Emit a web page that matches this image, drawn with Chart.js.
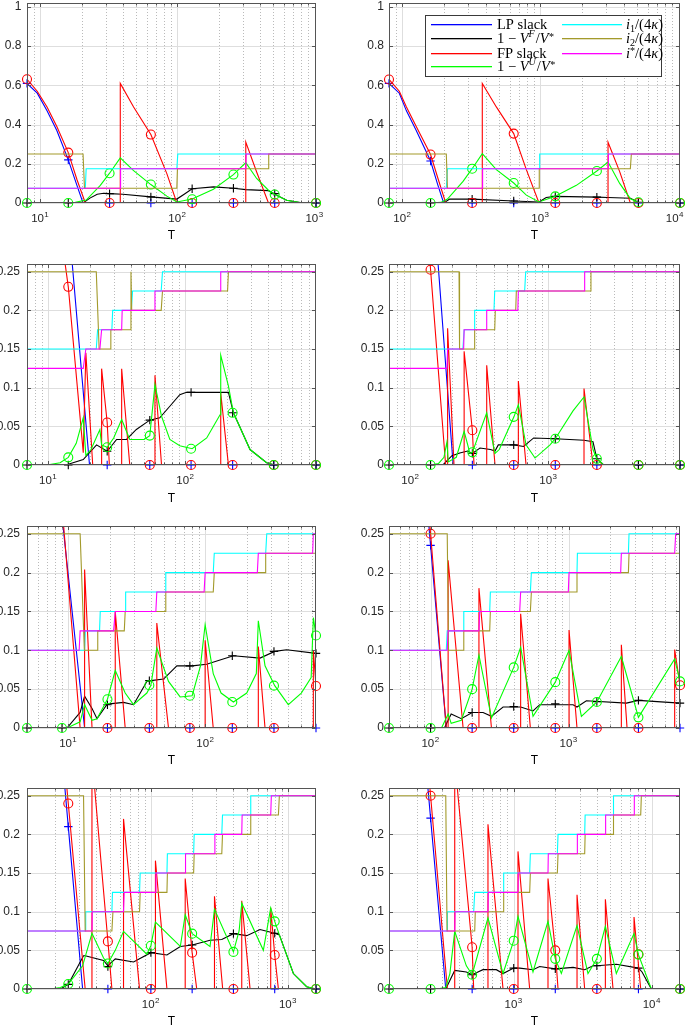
<!DOCTYPE html>
<html>
<head>
<meta charset="utf-8">
<script src="https://cdn.jsdelivr.net/npm/chart.js@4.4.1/dist/chart.umd.min.js"></script>
<style>
html,body{margin:0;padding:0;background:#ffffff;}
body{position:relative;width:685px;height:1031px;overflow:hidden;}
canvas{position:absolute;display:block;}
</style>
</head>
<body>
<canvas id="p1"></canvas><canvas id="p2"></canvas>
<canvas id="p3"></canvas><canvas id="p4"></canvas>
<canvas id="p5"></canvas><canvas id="p6"></canvas>
<canvas id="p7"></canvas><canvas id="p8"></canvas>
<script>
// ---------------- DATA ----------------
const yTicksTop = [0, 0.2, 0.4, 0.6, 0.8, 1];
const yTicksLow = [0, 0.05, 0.1, 0.15, 0.2, 0.25];
const legendLabels = ['LP slack', '1 − V^F/V*', 'FP slack', '1 − V^U/V*', 'i1/(4κ)', 'i2/(4κ)', 'i*/(4κ)'];

// Panel 1 (row 1, left)
const p1_T = [8, 16, 32, 64, 128, 256, 512, 1024];
const p1_lp = [[8,0.61],[9.5,0.56],[11.2,0.47],[13.2,0.37],[16,0.22],[18.5,0.09],[20.5,0],[1024,0]];
const p1_fp = [[8,0.631],[9.5,0.57],[11.2,0.49],[13.2,0.39],[16,0.257],[18.5,0.12],[21.3,0],[38.3,0],[38.3,0.61],[47.9,0.49],[64,0.349],[83.7,0.15],[99,0],[315,0],[315,0.311],[378,0.158],[461,0],[1024,0]];
const p1_vf = [[8,0],[20.5,0],[23,0.025],[26,0.045],[29,0.05],[32,0.048],[40,0.045],[64,0.031],[99,0.02],[112,0.045],[128,0.073],[183,0.082],[256,0.075],[315,0.068],[461,0.063],[512,0.045],[626,0.014],[783,0.002],[1024,0]];
const p1_vu = [[8,0],[16,0],[18,0.003],[21.6,0.015],[27.4,0.09],[32,0.152],[38.3,0.23],[47.9,0.165],[64,0.094],[83.7,0.035],[99,0.005],[128,0.02],[183,0.07],[256,0.145],[315,0.206],[378,0.125],[461,0.065],[512,0.043],[626,0.014],[783,0.002],[1024,0]];
const p1_i1 = [[8,0.075],[21.3,0.075],[21.6,0.175],[99,0.175],[100.6,0.25],[1024,0.25]];
const p1_i2 = [[8,0.25],[20.5,0.25],[21,0.075],[99,0.075],[100,0.175],[461,0.175],[463,0.25],[1024,0.25]];
const p1_is = [[8,0.075],[38.3,0.075],[38.5,0.175],[315,0.175],[317,0.25],[1024,0.25]];
const p1_mLP = [0.61,0.22,0,0,0,0,0,0];
const p1_mVF = [0,0,0.048,0.031,0.073,0.075,0.048,0];
const p1_mFP = [0.631,0.257,0,0.349,0,0,0,0];
const p1_mVU = [0,0,0.152,0.094,0.019,0.145,0.043,0];

// Panel 2 (row 1, right)
const p2_T = [80, 160, 320, 640, 1280, 2560, 5120, 10240];
const p2_lp = [[80,0.61],[95,0.56],[107,0.47],[126,0.37],[160,0.214],[180,0.095],[199,0],[10240,0]];
const p2_fp = [[80,0.63],[95,0.57],[107,0.49],[126,0.39],[160,0.247],[182,0.12],[206,0],[379,0],[379,0.61],[479,0.49],[640,0.354],[790,0.17],[976,0],[3084,0],[3084,0.31],[3745,0.16],[4475,0],[10240,0]];
const p2_vf = [[80,0],[199,0],[220,0.02],[320,0.02],[640,0.01],[976,0.005],[1100,0.028],[1280,0.034],[2560,0.03],[3084,0.028],[4475,0.024],[5120,0.004],[6900,0],[10240,0]];
const p2_vu = [[80,0],[160,0],[190,0.003],[212,0.02],[275,0.11],[320,0.175],[379,0.252],[479,0.17],[640,0.102],[790,0.04],[976,0.005],[1280,0.034],[1819,0.09],[2560,0.163],[3084,0.209],[3745,0.1],[4475,0.022],[5120,0.004],[6900,0],[10240,0]];
const p2_i1 = [[80,0.075],[208,0.075],[212,0.175],[976,0.175],[987,0.25],[10240,0.25]];
const p2_i2 = [[80,0.25],[208,0.25],[212,0.075],[976,0.075],[980,0.175],[4475,0.175],[4550,0.25],[10240,0.25]];
const p2_is = [[80,0.075],[379,0.075],[381,0.175],[3084,0.175],[3100,0.25],[10240,0.25]];
const p2_mLP = [0.61,0.214,0,0,0,0,0,0];
const p2_mVF = [0,0,0.02,0.01,0.034,0.03,0.004,0];
const p2_mFP = [0.63,0.247,0,0.354,0,0,0,0];
const p2_mVU = [0,0,0.175,0.102,0.034,0.163,0.004,0];

// Panel 3 (row 2, left)
const p3_T = [7, 14, 26.9, 55, 110, 221, 441, 896];
const p3_lp = [[7,0.62],[14,0.32],[20,0],[896,0]];
const p3_fp = [[7,0.62],[14,0.2305],[18,0.016],[18.8,0.145],[21.1,0],[24.5,0],[24.5,0.1246],[26.9,0.055],[27.9,0],[34.3,0],[34.3,0.1246],[39.3,0],[60,0],[60,0.116],[67,0],[181,0],[181,0.093],[206,0],[896,0]];
const p3_vf = [[7,0],[12.2,0],[14,0.001],[18,0.007],[22.5,0.026],[26.9,0.0177],[31.5,0.033],[37.2,0.033],[43.9,0.046],[55,0.058],[65,0.061],[77,0.076],[91,0.091],[102,0.094],[206,0.094],[224,0.0675],[296,0.02],[391,0.003],[448,0],[896,0]];
const p3_vu = [[7,0],[9.8,0],[12.2,0.003],[14,0.0099],[16,0.028],[18,0.061],[18.8,0.0125],[20.5,0.02],[23.8,0.0458],[24.5,0.026],[26.9,0.023],[30,0.035],[34.3,0.0588],[39.3,0.033],[50,0.033],[55,0.038],[60,0.104],[67,0.063],[77,0.033],[91,0.025],[112,0.021],[143,0.035],[179,0.065],[181,0.142],[206,0.102],[224,0.0675],[296,0.02],[391,0.003],[448,0],[896,0]];
const p3_i1 = [[7,0.15],[22.4,0.15],[22.9,0.175],[29.1,0.175],[29.5,0.2],[40.3,0.2],[41.2,0.225],[66.6,0.225],[68.1,0.25],[896,0.25]];
const p3_i2 = [[7,0.25],[22.4,0.25],[23.5,0.15],[28.3,0.15],[28.6,0.175],[40,0.175],[40.1,0.25],[40.6,0.2],[66.6,0.2],[68.1,0.225],[203,0.225],[206,0.25],[896,0.25]];
const p3_is = [[7,0.125],[18,0.125],[18.8,0.15],[23.8,0.15],[24.5,0.175],[34.3,0.175],[34.6,0.2],[59.5,0.2],[60,0.225],[179,0.225],[181,0.25],[896,0.25]];
const p3_mLP = [null,null,0,0,0,0,0,0];
const p3_mVF = [0,0,0.0177,0.058,0.094,0.0675,0,0];
const p3_mFP = [null,0.2305,0.055,0,0,0,0,0];
const p3_mVU = [0,0.0099,0.023,0.038,0.021,0.0675,0,0];

// Panel 4 (row 2, right)
const p4_T = [70, 140, 281, 560, 1120, 2240, 4480, 8960];
const p4_lp = [[70,0.9],[140,0.39],[204,0],[8960,0]];
const p4_fp = [[70,0.95],[140,0.2526],[180,0],[186,0],[186,0.177],[207,0],[245,0],[245,0.147],[281,0.0449],[289,0],[357,0],[357,0.129],[410,0],[605,0],[605,0.1085],[688,0],[1808,0],[1808,0.099],[2100,0],[8960,0]];
const p4_vf = [[70,0],[172,0],[200,0.012],[228,0.0156],[260,0.018],[281,0.015],[319,0.022],[380,0.02],[410,0.018],[433,0.026],[562,0.026],[660,0.024],[781,0.035],[1120,0.034],[1808,0.032],[2100,0.03],[2240,0.008],[2480,0.001],[4480,0],[8960,0]];
const p4_vu = [[70,0],[140,0],[160,0.002],[175,0.01],[184,0.03],[188,0.004],[215,0.01],[245,0.0436],[270,0.015],[281,0.0164],[357,0.0675],[410,0.015],[440,0.02],[562,0.0623],[605,0.078],[688,0.026],[799,0.009],[1026,0.026],[1120,0.034],[1505,0.07],[1808,0.088],[2100,0.02],[2240,0.008],[2480,0.001],[4480,0],[8960,0]];
const p4_i1 = [[70,0.15],[240,0.15],[245,0.175],[289,0.175],[292,0.2],[403,0.2],[408,0.225],[672,0.225],[684,0.25],[8960,0.25]];
const p4_i2 = [[70,0.25],[225,0.25],[227,0.15],[289,0.15],[292,0.175],[408,0.175],[412,0.2],[579,0.2],[585,0.225],[2010,0.225],[2030,0.25],[8960,0.25]];
const p4_is = [[70,0.125],[184,0.125],[186,0.15],[243,0.15],[245,0.175],[355,0.175],[357,0.2],[600,0.2],[605,0.225],[1808,0.225],[1828,0.25],[8960,0.25]];
const p4_mLP = [null,null,0,0,0,0,0,0];
const p4_mVF = [0,0,0.015,0.026,0.034,0.008,0,0];
const p4_mFP = [null,0.2526,0.0449,0,0,0,0,0];
const p4_mVU = [0,0,0.0164,0.0623,0.034,0.008,0,0];

// Panel 5 (row 3, left)
const p5_T = [5, 9, 19.3, 39, 77, 157, 316, 640];
const p5_lp = [[5,0.69],[9.15,0.26],[13.15,0],[640,0]];
const p5_fp = [[5,0.75],[9.25,0.26],[12.2,0],[13.15,0],[13.15,0.204],[14.9,0],[22,0],[22,0.15],[26,0],[44.2,0],[44.2,0.135],[53.8,0],[99.5,0],[99.5,0.113],[114,0],[243,0],[243,0.105],[272,0],[612,0],[612,0.1],[640,0.054]];
const p5_vf = [[5,0],[9.78,0],[12.2,0.02],[13.15,0.041],[14.9,0.025],[16.2,0.012],[19.1,0.03],[20,0.031],[25.3,0.033],[29.9,0.03],[37.4,0.06],[40,0.061],[49.5,0.063],[61.9,0.08],[80,0.08],[102,0.082],[160,0.093],[250,0.09],[320,0.0986],[391,0.1007],[640,0.096]];
const p5_vu = [[5,0],[9.78,0],[12.2,0.008],[13.15,0.03],[14.9,0.01],[16.2,0.012],[19.3,0.037],[22,0.074],[26,0.045],[29.9,0.03],[37.4,0.045],[40,0.055],[44.2,0.103],[53.8,0.06],[65.4,0.04],[80,0.0416],[92,0.08],[99.5,0.133],[114,0.07],[130,0.045],[160,0.0335],[200,0.045],[235,0.07],[243,0.138],[272,0.08],[320,0.0545],[402,0.03],[500,0.045],[590,0.065],[612,0.142],[640,0.119]];
const p5_i1 = [[5,0.1],[13.15,0.1],[13.3,0.125],[16.9,0.125],[17.1,0.15],[26,0.15],[26.2,0.175],[50.9,0.175],[51.4,0.2],[114,0.2],[116,0.225],[275,0.225],[280,0.25],[640,0.25]];
const p5_i2 = [[5,0.25],[12.2,0.25],[13.1,0.1],[16.2,0.1],[16.4,0.125],[25.6,0.125],[26,0.15],[50.9,0.15],[51.4,0.175],[114,0.175],[116,0.2],[272,0.2],[275,0.225],[640,0.225]];
const p5_is = [[5,0.1],[12,0.1],[12.2,0.125],[21.4,0.125],[22,0.15],[43.5,0.15],[44.2,0.175],[97.8,0.175],[99.5,0.2],[239,0.2],[243,0.225],[605,0.225],[612,0.25],[640,0.25]];
const p5_mLP = [null,null,0,0,0,0,0,0];
const p5_mVF = [0,0,0.03,0.061,0.08,0.093,0.0986,0.096];
const p5_mFP = [null,null,0,0,0,0,0,0.054];
const p5_mVU = [0,0,0.037,0.055,0.0416,0.0335,0.0545,0.119];

// Panel 6 (row 3, right)
const p6_T = [50, 100, 200, 400, 800, 1600, 3200, 6400];
const p6_lp = [[50,0.85],[100,0.235],[130,0],[6400,0]];
const p6_fp = [[50,0.91],[100,0.25],[130,0],[134,0],[134,0.216],[172,0],[224,0],[224,0.18],[276,0],[449,0],[449,0.147],[528,0],[1006,0],[1006,0.126],[1149,0],[2407,0],[2407,0.107],[2647,0],[5856,0],[5856,0.101],[6400,0.055]];
const p6_vf = [[50,0],[126,0],[141,0.018],[167,0.012],[200,0.02],[240,0.02],[276,0.015],[335,0.027],[449,0.027],[552,0.022],[617,0.03],[1076,0.03],[1149,0.027],[1343,0.035],[2617,0.032],[3200,0.0356],[6400,0.032]];
const p6_vu = [[50,0],[120,0],[134,0.018],[141,0.006],[167,0.01],[200,0.05],[224,0.094],[276,0.013],[400,0.078],[449,0.104],[552,0.015],[800,0.059],[1006,0.1],[1236,0.015],[1600,0.0335],[2407,0.092],[3200,0.0137],[5856,0.089],[6400,0.06]];
const p6_i1 = [[50,0.1],[130,0.1],[132,0.125],[172,0.125],[174,0.15],[268,0.15],[271,0.175],[528,0.175],[537,0.2],[1149,0.2],[1157,0.225],[2707,0.225],[2736,0.25],[6400,0.25]];
const p6_i2 = [[50,0.25],[132,0.25],[135,0.1],[172,0.1],[174,0.125],[268,0.125],[271,0.15],[528,0.15],[537,0.175],[1137,0.175],[1149,0.2],[2707,0.2],[2736,0.225],[6400,0.225]];
const p6_is = [[50,0.1],[132,0.1],[134,0.125],[224,0.125],[227,0.15],[442,0.15],[449,0.175],[994,0.175],[1006,0.2],[2380,0.2],[2407,0.225],[5856,0.225],[5955,0.25],[6400,0.25]];
const p6_mLP = [null,0.235,0,0,0,0,0,0];
const p6_mVF = [0,0,0.02,0.0275,0.031,0.034,0.0356,0.032];
const p6_mFP = [null,0.25,0,0,0,0,0,0.055];
const p6_mVU = [0,0,0.05,0.078,0.059,0.0335,0.0137,0.06];

// Panel 7 (row 4, left)
const p7_T = [12.5, 25, 48.6, 100, 200, 400, 800, 1600];
const p7_lp = [[12.5,0.815],[25,0.21],[31.8,0],[1600,0]];
const p7_fp = [[12.5,0.82],[25,0.24],[33.2,0],[37.2,0],[37.2,0.3],[48.6,0.062],[52,0],[63.2,0],[63.2,0.22],[82.7,0],[108,0],[108,0.166],[131,0],[178,0],[178,0.143],[200,0.047],[216,0],[291,0],[291,0.12],[334,0],[460,0],[460,0.114],[529,0],[748,0],[748,0.105],[800,0.044],[851,0],[1600,0]];
const p7_vf = [[12.5,0],[21.9,0],[25,0.006],[32.3,0.043],[33.2,0.043],[45.2,0.037],[48.6,0.03],[55,0.039],[74.8,0.035],[100,0.047],[131,0.044],[164,0.055],[200,0.057],[270,0.063],[329,0.064],[400,0.0716],[500,0.069],[625,0.077],[800,0.072],[865,0.07],[1094,0.02],[1368,0.003],[1600,0]];
const p7_vu = [[12.5,0],[18.5,0],[21.9,0.002],[25,0.0065],[31.8,0.03],[37.2,0.072],[45.2,0.04],[48.6,0.033],[55,0.05],[63.2,0.0746],[93.5,0.045],[100,0.056],[108,0.0866],[164,0.055],[178,0.096],[200,0.0716],[270,0.055],[291,0.103],[400,0.048],[440,0.075],[460,0.111],[661,0.05],[748,0.105],[800,0.0875],[865,0.07],[1094,0.02],[1368,0.003],[1600,0]];
const p7_i1 = [[12.5,0.075],[33.2,0.075],[33.5,0.1],[52,0.1],[52.5,0.125],[82.7,0.125],[83.6,0.15],[131,0.15],[132,0.175],[205,0.175],[207,0.2],[329,0.2],[333,0.225],[529,0.225],[535,0.25],[1600,0.25]];
const p7_i2 = [[12.5,0.25],[32.3,0.25],[33.2,0.075],[52,0.075],[52.9,0.1],[82.7,0.1],[83.6,0.125],[131,0.125],[132,0.15],[205,0.15],[207,0.175],[329,0.175],[333,0.2],[529,0.2],[535,0.225],[851,0.225],[865,0.25],[1600,0.25]];
const p7_is = [[12.5,0.075],[37.2,0.075],[37.4,0.1],[63.2,0.1],[63.9,0.125],[108,0.125],[109,0.15],[178,0.15],[179,0.175],[291,0.175],[293,0.2],[460,0.2],[463,0.225],[748,0.225],[756,0.25],[1600,0.25]];
const p7_mLP = [null,0.21,0,0,0,0,0,0];
const p7_mVF = [0,0.006,0.029,0.047,0.057,0.0716,0.072,0];
const p7_mFP = [null,0.24,0.0616,0,0.047,0,0.044,0];
const p7_mVU = [0,0.0065,0.033,0.056,0.0716,0.048,0.0875,0];

// Panel 8 (row 4, right)
const p8_T = [125, 250, 500, 1000, 2000, 4000, 8000, 16000];
const p8_lp = [[125,0.83],[250,0.221],[322,0],[16000,0]];
const p8_fp = [[125,0.87],[250,0.25],[331,0],[374,0],[374,0.296],[500,0.054],[513,0],[651,0],[651,0.213],[837,0],[1074,0],[1074,0.178],[1305,0],[1771,0],[1771,0.143],[2000,0.05],[2094,0],[2874,0],[2874,0.122],[3265,0],[4610,0],[4610,0.116],[5240,0],[7433,0],[7433,0.093],[8310,0],[16000,0]];
const p8_vf = [[125,0],[322,0],[374,0.024],[454,0.022],[500,0.0185],[599,0.025],[748,0.025],[837,0.02],[1000,0.027],[1105,0.027],[1379,0.025],[1542,0.029],[2000,0.026],[2690,0.028],[3265,0.025],[3752,0.03],[4000,0.03],[5535,0.032],[8000,0.027],[8500,0.022],[9924,0],[16000,0]];
const p8_vu = [[125,0],[275,0],[322,0.002],[345,0.02],[374,0.0746],[454,0.03],[500,0.0185],[651,0.092],[837,0.02],[1000,0.0625],[1074,0.094],[1379,0.022],[1771,0.0875],[2000,0.039],[2213,0.02],[2874,0.082],[3450,0.02],[4000,0.039],[4610,0.081],[5535,0.02],[7433,0.0716],[8000,0.0445],[9924,0],[16000,0]];
const p8_i1 = [[125,0.075],[329,0.075],[331,0.1],[513,0.1],[522,0.125],[837,0.125],[846,0.15],[1305,0.15],[1320,0.175],[2070,0.175],[2094,0.2],[3265,0.2],[3290,0.225],[5240,0.225],[5280,0.25],[16000,0.25]];
const p8_i2 = [[125,0.25],[322,0.25],[329,0.075],[522,0.075],[527,0.1],[837,0.1],[846,0.125],[1305,0.125],[1320,0.15],[2070,0.15],[2094,0.175],[3265,0.175],[3290,0.2],[5240,0.2],[5280,0.225],[8310,0.225],[8400,0.25],[16000,0.25]];
const p8_is = [[125,0.075],[374,0.075],[376,0.1],[651,0.1],[655,0.125],[1074,0.125],[1080,0.15],[1771,0.15],[1780,0.175],[2874,0.175],[2890,0.2],[4610,0.2],[4630,0.225],[7433,0.225],[7470,0.25],[16000,0.25]];
const p8_mLP = [null,0.221,0,0,0,0,0,0];
const p8_mVF = [0,0,0.0185,0.027,0.026,0.03,0.027,0];
const p8_mFP = [null,0.25,0.054,0,0.05,0,0.045,0];
const p8_mVU = [0,0,0.0185,0.0625,0.039,0.039,0.0445,0];

// ---------------- STYLE / LAYOUT ----------------
const FONT = '"Liberation Sans", Arial, Helvetica, sans-serif';
const SERIF = '"Liberation Serif", "Times New Roman", serif';
const COL = { lp:'#0000ff', vf:'#000000', fp:'#ff0000', vu:'#00ff00', i1:'#00ffff', i2:'#a39a2b', is:'#ff00ff' };
const FRAME = '#555555';
const TXT = '#262626';

const rows = [
  { top:0,   h:243, padTop:3,  xH:40, ymax:1.02, yt:yTicksTop },
  { top:243, h:263, padTop:21, xH:41, ymax:0.26, yt:yTicksLow },
  { top:506, h:262, padTop:20, xH:40, ymax:0.26, yt:yTicksLow },
  { top:768, h:261, padTop:20, xH:40, ymax:0.26, yt:yTicksLow }
];
const cols = [
  { left:0,   w:345, yW:27, padRight:29 },
  { left:345, w:340, yW:44, padRight:5 }
];

const panelData = [
  { id:'p1', r:0, c:0, xmin:8,    xmax:1024,  T:p1_T, lp:p1_lp, fp:p1_fp, vf:p1_vf, vu:p1_vu, i1:p1_i1, i2:p1_i2, is:p1_is, mLP:p1_mLP, mVF:p1_mVF, mFP:p1_mFP, mVU:p1_mVU, ypad:5.5 },
  { id:'p2', r:0, c:1, xmin:80,   xmax:10240, T:p2_T, lp:p2_lp, fp:p2_fp, vf:p2_vf, vu:p2_vu, i1:p2_i1, i2:p2_i2, is:p2_is, mLP:p2_mLP, mVF:p2_mVF, mFP:p2_mFP, mVU:p2_mVU, ypad:5, legend:true },
  { id:'p3', r:1, c:0, xmin:7,    xmax:896,   T:p3_T, lp:p3_lp, fp:p3_fp, vf:p3_vf, vu:p3_vu, i1:p3_i1, i2:p3_i2, is:p3_is, mLP:p3_mLP, mVF:p3_mVF, mFP:p3_mFP, mVU:p3_mVU, ypad:7 },
  { id:'p4', r:1, c:1, xmin:70,   xmax:8960,  T:p4_T, lp:p4_lp, fp:p4_fp, vf:p4_vf, vu:p4_vu, i1:p4_i1, i2:p4_i2, is:p4_is, mLP:p4_mLP, mVF:p4_mVF, mFP:p4_mFP, mVU:p4_mVU, ypad:5 },
  { id:'p5', r:2, c:0, xmin:5,    xmax:640,   T:p5_T, lp:p5_lp, fp:p5_fp, vf:p5_vf, vu:p5_vu, i1:p5_i1, i2:p5_i2, is:p5_is, mLP:p5_mLP, mVF:p5_mVF, mFP:p5_mFP, mVU:p5_mVU, ypad:7 },
  { id:'p6', r:2, c:1, xmin:50,   xmax:6400,  T:p6_T, lp:p6_lp, fp:p6_fp, vf:p6_vf, vu:p6_vu, i1:p6_i1, i2:p6_i2, is:p6_is, mLP:p6_mLP, mVF:p6_mVF, mFP:p6_mFP, mVU:p6_mVU, ypad:5 },
  { id:'p7', r:3, c:0, xmin:12.5, xmax:1600,  T:p7_T, lp:p7_lp, fp:p7_fp, vf:p7_vf, vu:p7_vu, i1:p7_i1, i2:p7_i2, is:p7_is, mLP:p7_mLP, mVF:p7_mVF, mFP:p7_mFP, mVU:p7_mVU, ypad:7 },
  { id:'p8', r:3, c:1, xmin:125,  xmax:16000, T:p8_T, lp:p8_lp, fp:p8_fp, vf:p8_vf, vu:p8_vu, i1:p8_i1, i2:p8_i2, is:p8_is, mLP:p8_mLP, mVF:p8_mVF, mFP:p8_mFP, mVU:p8_mVU, ypad:5 }
];

const CFG = {};

function decadesIn(min, max) {
  const out = [];
  for (let d = Math.floor(Math.log10(min)); d <= Math.ceil(Math.log10(max)); d++) {
    const v = Math.pow(10, d);
    if (v >= min * 0.999 && v <= max * 1.001) out.push(d);
  }
  return out;
}

function drawRich(ctx, x, y, segs, size) {
  let cx = x;
  ctx.textBaseline = 'alphabetic';
  ctx.textAlign = 'left';
  for (const s of segs) {
    const fs = (s.sup || s.sub) ? size * 0.7 : size;
    ctx.font = (s.it ? 'italic ' : '') + fs + 'px ' + SERIF;
    const dy = s.sup ? (s.ast ? -size * 0.22 : -size * 0.4) : (s.sub ? size * 0.22 : 0);
    ctx.fillText(s.t, cx, y + dy);
    cx += ctx.measureText(s.t).width + (s.sp || 0);
  }
}

const legendRich = [
  [{ t:'LP slack' }],
  [{ t:'1 − ' }, { t:'V', it:true }, { t:'F', it:true, sup:true, sp:1 }, { t:'/' }, { t:'V', it:true, sp:0.5 }, { t:'*', sup:true, ast:true }],
  [{ t:'FP slack' }],
  [{ t:'1 − ' }, { t:'V', it:true }, { t:'U', it:true, sup:true, sp:1 }, { t:'/' }, { t:'V', it:true, sp:0.5 }, { t:'*', sup:true, ast:true }],
  [{ t:'i', it:true }, { t:'1', sub:true }, { t:'/(4' }, { t:'κ', it:true }, { t:')' }],
  [{ t:'i', it:true }, { t:'2', sub:true }, { t:'/(4' }, { t:'κ', it:true }, { t:')' }],
  [{ t:'i', it:true }, { t:'*', sup:true, ast:true }, { t:'/(4' }, { t:'κ', it:true }, { t:')' }]
];

const axesPlugin = {
  id: 'matlabAxes',
  beforeDatasetsDraw(chart) {
    const cfg = CFG[chart.canvas.id];
    const { ctx, chartArea: a, scales: { x, y } } = chart;
    ctx.save();
    ctx.lineWidth = 1;
    ctx.strokeStyle = 'rgba(90,90,90,0.42)';
    ctx.setLineDash([1, 2]);
    for (let d = Math.floor(Math.log10(cfg.xmin)); d <= Math.ceil(Math.log10(cfg.xmax)); d++) {
      for (let m = 2; m <= 9; m++) {
        const v = m * Math.pow(10, d);
        if (v <= cfg.xmin || v >= cfg.xmax) continue;
        const px = Math.round(x.getPixelForValue(v)) + 0.5;
        ctx.beginPath(); ctx.moveTo(px, a.top); ctx.lineTo(px, a.bottom); ctx.stroke();
      }
    }
    ctx.setLineDash([]);
    ctx.strokeStyle = '#dedede';
    for (const d of decadesIn(cfg.xmin, cfg.xmax)) {
      const px = Math.round(x.getPixelForValue(Math.pow(10, d))) + 0.5;
      ctx.beginPath(); ctx.moveTo(px, a.top); ctx.lineTo(px, a.bottom); ctx.stroke();
    }
    for (const v of cfg.yt) {
      const py = Math.round(y.getPixelForValue(v)) + 0.5;
      ctx.beginPath(); ctx.moveTo(a.left, py); ctx.lineTo(a.right, py); ctx.stroke();
    }
    ctx.restore();
  },
  afterDatasetsDraw(chart) {
    const cfg = CFG[chart.canvas.id];
    const { ctx, chartArea: a, scales: { x, y } } = chart;
    ctx.save();
    ctx.strokeStyle = FRAME;
    ctx.lineWidth = 1;
    const L = Math.round(a.left) + 0.5, R = Math.round(a.right) - 0.5;
    const Tp = Math.round(a.top) + 0.5, B = Math.round(a.bottom) - 0.5;
    ctx.beginPath();
    for (let d = Math.floor(Math.log10(cfg.xmin)); d <= Math.ceil(Math.log10(cfg.xmax)); d++) {
      for (let m = 2; m <= 9; m++) {
        const v = m * Math.pow(10, d);
        if (v <= cfg.xmin || v >= cfg.xmax) continue;
        const px = Math.round(x.getPixelForValue(v)) + 0.5;
        ctx.moveTo(px, B); ctx.lineTo(px, B - 2);
        ctx.moveTo(px, Tp); ctx.lineTo(px, Tp + 2);
      }
    }
    for (const d of decadesIn(cfg.xmin, cfg.xmax)) {
      const px = Math.round(x.getPixelForValue(Math.pow(10, d))) + 0.5;
      ctx.moveTo(px, B); ctx.lineTo(px, B - 3.5);
      ctx.moveTo(px, Tp); ctx.lineTo(px, Tp + 3.5);
    }
    for (const v of cfg.yt) {
      const py = Math.round(y.getPixelForValue(v)) + 0.5;
      ctx.moveTo(L, py); ctx.lineTo(L + 3.5, py);
      ctx.moveTo(R, py); ctx.lineTo(R - 3.5, py);
    }
    ctx.stroke();
    ctx.strokeRect(L, Tp, R - L, B - Tp);
    ctx.restore();
  },
  afterDraw(chart) {
    const cfg = CFG[chart.canvas.id];
    const { ctx, chartArea: a, scales: { x } } = chart;
    ctx.save();
    ctx.fillStyle = TXT;
    ctx.textBaseline = 'alphabetic';
    ctx.textAlign = 'left';
    for (const d of decadesIn(cfg.xmin, cfg.xmax)) {
      const px = x.getPixelForValue(Math.pow(10, d));
      ctx.font = '11.5px ' + FONT;
      const w1 = ctx.measureText('10').width;
      ctx.font = '8px ' + FONT;
      const w2 = ctx.measureText(String(d)).width;
      let x0 = px - (w1 + w2) / 2 - 0.5;
      x0 = Math.min(x0, chart.width - (w1 + w2 + 0.4) - 1.5);
      ctx.font = '11.5px ' + FONT;
      ctx.fillText('10', x0, a.bottom + 19.3);
      ctx.font = '8px ' + FONT;
      ctx.fillText(String(d), x0 + w1 + 0.4, a.bottom + 14.2);
    }
    if (cfg.legend) {
      const bx = 80, by = 15, bw = 237, bh = 62;
      ctx.fillStyle = '#ffffff';
      ctx.fillRect(bx, by, bw, bh);
      ctx.strokeStyle = '#3a3a3a';
      ctx.lineWidth = 1;
      ctx.strokeRect(bx + 0.5, by + 0.5, bw - 1, bh - 1);
      const rowsY = [24, 38.3, 52.7, 66];
      const colors = [COL.lp, COL.vf, COL.fp, COL.vu, COL.i1, COL.i2, COL.is];
      for (let i = 0; i < 7; i++) {
        const colIdx = i < 4 ? 0 : 1;
        const ry = rowsY[i < 4 ? i : i - 4];
        const lx0 = colIdx === 0 ? 86 : 217, lx1 = colIdx === 0 ? 147 : 277;
        const tx = colIdx === 0 ? 152 : 281;
        ctx.fillStyle = colors[i];
        ctx.fillRect(lx0, Math.round(ry), lx1 - lx0, 1.3);
        ctx.fillStyle = '#000000';
        drawRich(ctx, tx, ry + 4.8, legendRich[i], 14.5);
      }
    }
    ctx.restore();
  }
};

function lineDs(data, color, order) {
  return { data: data, borderColor: color, backgroundColor: color, borderWidth: 1.1, pointRadius: 0,
           pointHoverRadius: 0, fill: false, tension: 0, order: order };
}
function markerDs(T, vals, color, style, order) {
  const pts = [];
  for (let i = 0; i < T.length; i++) if (vals[i] !== null) pts.push([T[i], vals[i]]);
  return { data: pts, showLine: false, borderColor: color, backgroundColor: 'rgba(0,0,0,0)',
           pointStyle: style, pointRadius: style === 'circle' ? 4.5 : 4.2, pointBorderWidth: 1.1,
           pointHoverRadius: 0, clip: false, order: order };
}

for (const p of panelData) {
  const R = rows[p.r], C = cols[p.c];
  const cfg = { id: p.id, xmin: p.xmin, xmax: p.xmax, yt: R.yt, legend: !!p.legend };
  CFG[p.id] = cfg;
  const cv = document.getElementById(p.id);
  cv.width = C.w; cv.height = R.h;
  cv.style.left = C.left + 'px'; cv.style.top = R.top + 'px';
  cv.style.width = C.w + 'px'; cv.style.height = R.h + 'px';
  const datasets = [
    lineDs(p.lp, COL.lp, 14), markerDs(p.T, p.mLP, COL.lp, 'cross', 13),
    lineDs(p.vf, COL.vf, 12), markerDs(p.T, p.mVF, COL.vf, 'cross', 11),
    lineDs(p.fp, COL.fp, 10), markerDs(p.T, p.mFP, COL.fp, 'circle', 9),
    lineDs(p.vu, COL.vu, 8),  markerDs(p.T, p.mVU, COL.vu, 'circle', 7),
    lineDs(p.i1, COL.i1, 6), lineDs(p.i2, COL.i2, 5), lineDs(p.is, COL.is, 4)
  ];
  datasets.forEach((d, i) => { d.label = legendLabels[[0,0,1,1,2,2,3,3,4,5,6][i]]; });
  new Chart(cv, {
    type: 'line',
    data: { datasets: datasets },
    options: {
      responsive: false, animation: false, events: [], devicePixelRatio: 1,
      layout: { autoPadding: false, padding: { top: R.padTop, right: C.padRight, left: 0, bottom: 0 } },
      plugins: { legend: { display: false }, tooltip: { enabled: false } },
      scales: {
        x: {
          type: 'logarithmic', position: 'bottom', min: p.xmin, max: p.xmax, bounds: 'data',
          grid: { display: false, drawTicks: false }, border: { display: false },
          ticks: { display: false },
          afterFit: (s) => { s.height = R.xH; s.paddingLeft = 0; s.paddingRight = 0; },
          title: { display: true, text: 'T', color: '#000000', font: { family: FONT, size: 12 }, padding: 0 }
        },
        y: {
          type: 'linear', position: 'left', min: 0, max: R.ymax, bounds: 'data',
          grid: { display: false, drawTicks: false }, border: { display: false },
          ticks: { padding: p.ypad, color: TXT, font: { family: FONT, size: 12 }, autoSkip: false, maxRotation: 0,
                   callback: (v) => String(v) },
          afterBuildTicks: (s) => { s.ticks = R.yt.map(v => ({ value: v })); },
          afterFit: (s) => { s.width = C.yW; s.paddingTop = 0; s.paddingBottom = 0; }
        }
      }
    },
    plugins: [axesPlugin]
  });
}
</script>
</body>
</html>
